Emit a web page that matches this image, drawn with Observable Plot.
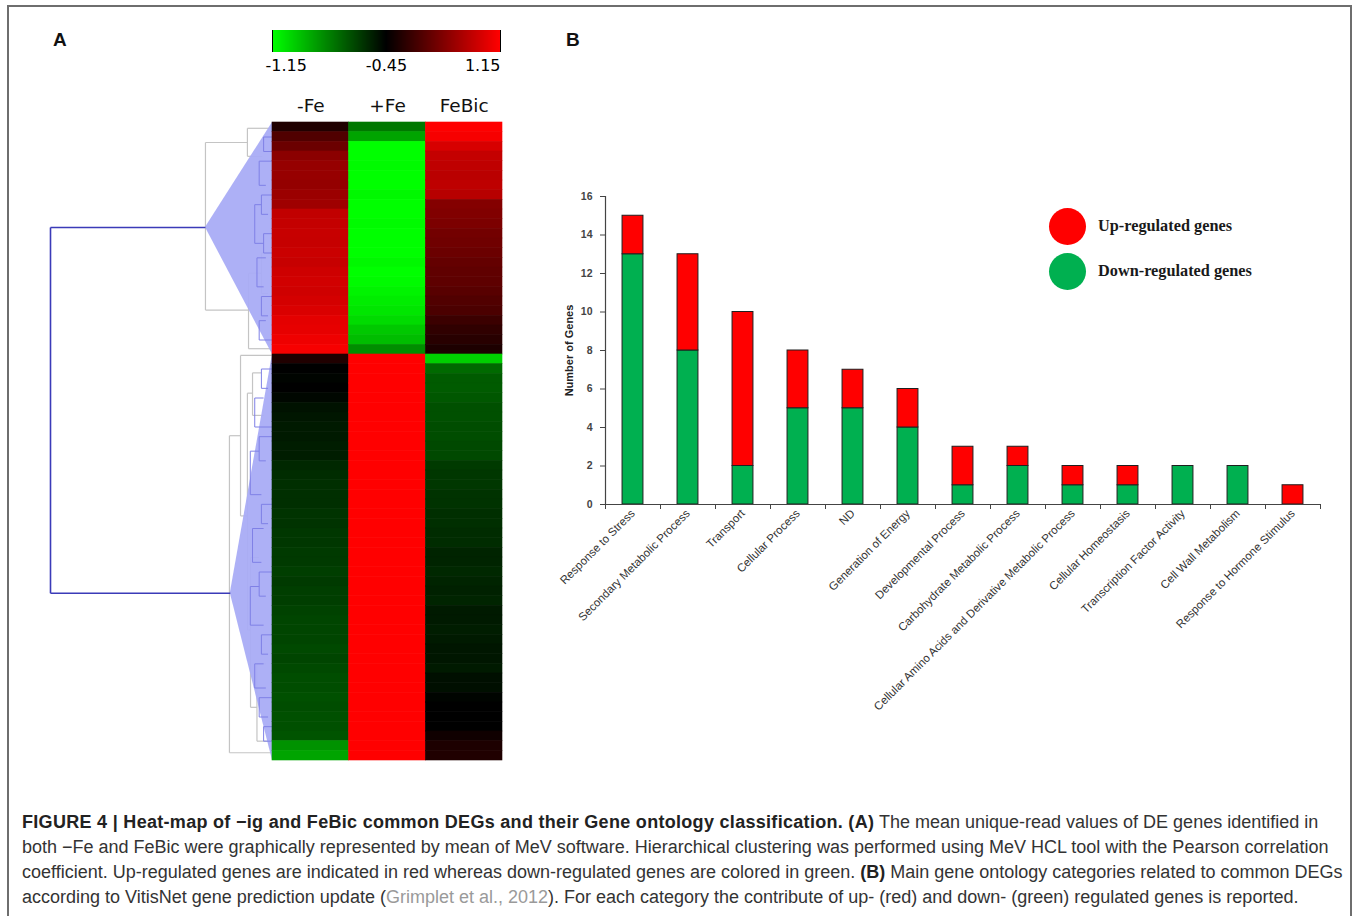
<!DOCTYPE html>
<html><head><meta charset="utf-8">
<script src="https://cdn.jsdelivr.net/npm/d3@7"></script>
<script src="https://cdn.jsdelivr.net/npm/@observablehq/plot@0.6"></script>
<style>
body{margin:0;background:#fff;}
#fig{position:relative;width:1360px;height:916px;overflow:hidden;font-family:"Liberation Sans",Arial,sans-serif;background:#fff;}
#frame{position:absolute;left:7px;top:5px;width:1345px;height:930px;border:2px solid #6e6e6e;border-bottom:none;box-sizing:border-box;}
.abs{position:absolute;}
.panel{font-weight:bold;font-size:19px;color:#111;}
.dot{position:absolute;width:37px;height:37px;border-radius:50%;}
.lg{position:absolute;font-family:"Liberation Serif","Times New Roman",serif;font-weight:bold;font-size:16.3px;color:#1a1a1a;white-space:nowrap;line-height:20px;}
#caption{position:absolute;left:22px;top:810px;font-size:18px;line-height:25px;color:#333;}
#caption .ln{white-space:nowrap;}
#caption b{color:#222;}
#caption .ln1 b{letter-spacing:0.3px;}
#caption .ref{color:#9a9a9a;}
#scaleLegend text{font-family:"DejaVu Sans",sans-serif !important;font-size:16px !important;fill:#000;}
svg{overflow:visible;}
</style>
</head><body>
<div id="fig">
  <div id="frame"></div>
  <div class="abs panel" style="left:53px;top:29px;">A</div>
  <div class="abs panel" style="left:566px;top:29px;">B</div>
  <div class="abs" id="scaleLegend" style="left:272px;top:30px;"></div>
  <div class="abs" id="dendro" style="left:30px;top:82px;"></div>
  <div class="abs" id="heat" style="left:262px;top:82px;"></div>
  <div class="abs" id="bars" style="left:555px;top:186px;"></div>
  <div class="dot" style="left:1049px;top:208px;background:#ff0000;"></div>
  <div class="dot" style="left:1049px;top:253px;background:#00b050;"></div>
  <div class="lg" style="left:1098px;top:216px;">Up-regulated genes</div>
  <div class="lg" style="left:1098px;top:261px;">Down-regulated genes</div>
  <div id="caption">
    <div class="ln ln1"><b>FIGURE 4 | Heat-map of −ig and FeBic common DEGs and their Gene ontology classification. (A)</b> The mean unique-read values of DE genes identified in</div>
    <div class="ln">both −Fe and FeBic were graphically represented by mean of MeV software. Hierarchical clustering was performed using MeV HCL tool with the Pearson correlation</div>
    <div class="ln">coefficient. Up-regulated genes are indicated in red whereas down-regulated genes are colored in green. <b>(B)</b> Main gene ontology categories related to common DEGs</div>
    <div class="ln">according to VitisNet gene prediction update (<span class="ref">Grimplet et al., 2012</span>). For each category the contribute of up- (red) and down- (green) regulated genes is reported.</div>
  </div>
</div>
<script>
// ---------------- Panel A data ----------------
const conditions = ["-Fe", "+Fe", "FeBic"];
const colorStops = [-1.15, -0.45, 1.15];
const colorRange = ["#00ff00", "#000000", "#ff0000"];

const feMinus = [
  -0.25, 0.05, 0.22, 0.42, 0.49, 0.50, 0.48, 0.52, 0.55, 0.76, 0.78, 0.80, 0.79, 0.82, 0.80, 0.84, 0.86, 0.85, 0.88, 0.92, 0.98, 1.00, 1.05, 1.10,
  -0.25, -0.45, -0.46, -0.45, -0.47, -0.50, -0.51, -0.52, -0.52, -0.53, -0.53,
  -0.56, -0.57, -0.58, -0.58, -0.58, -0.59, -0.59, -0.60, -0.60,
  -0.61, -0.61, -0.62, -0.61, -0.62, -0.62, -0.63, -0.64, -0.64, -0.64, -0.65, -0.64, -0.65,
  -0.66, -0.66, -0.67, -0.66, -0.67, -0.67, -0.68, -0.85, -0.90
];
const fePlus = [
  -0.78, -0.90, -1.15, -1.15, -1.14, -1.15, -1.15, -1.13, -1.15, -1.15, -1.14, -1.15, -1.15, -1.15, -1.13, -1.15, -1.14, -1.12, -1.10, -1.08, -1.05, -1.00, -0.97, -0.84,
  1.15, 1.15, 1.15, 1.15, 1.15, 1.15, 1.15, 1.15, 1.15, 1.15, 1.15, 1.15, 1.15, 1.15,
  1.15, 1.15, 1.15, 1.15, 1.15, 1.15, 1.15, 1.15, 1.15, 1.15, 1.15, 1.15, 1.15, 1.15,
  1.15, 1.15, 1.15, 1.15, 1.15, 1.15, 1.15, 1.15, 1.15, 1.15, 1.15, 1.15, 1.15, 1.15
];
const feBic = [
  1.15, 1.10, 0.90, 0.78, 0.75, 0.72, 0.74, 0.70, 0.38, 0.36, 0.33, 0.27, 0.25, 0.22, 0.18, 0.15, 0.14, 0.10, 0.06, 0.02, -0.08, -0.15, -0.20, -0.27,
  -1.02, -0.74, -0.70, -0.70, -0.69, -0.67, -0.67, -0.66, -0.66, -0.65, -0.65,
  -0.61, -0.60, -0.60, -0.59, -0.59, -0.58, -0.58, -0.57, -0.57,
  -0.55, -0.55, -0.56, -0.55, -0.54, -0.55, -0.52, -0.52, -0.53, -0.52, -0.51, -0.51, -0.52,
  -0.49, -0.49, -0.46, -0.45, -0.45, -0.45, -0.35, -0.27, -0.25
];

// Dendrogram (h = merge height, y = row position in gene units)
const rootNode = [{h: 1, ya: 10.86, ha: 0.302, yb: 48.7, hb: 0.19}];
const clusters = [
  {h: 0.302, y: 10.86, start: 0, end: 24},
  {h: 0.19, y: 48.7, start: 24, end: 66}
];
const grayNodes = [
  {h: 0.302, ya: 2.07, ha: 0.113, yb: 19.4, hb: 0.108},
  {h: 0.113, ya: 0.6, ha: 0, yb: 3.5, hb: 0.045},
  {h: 0.108, ya: 15.6, ha: 0.05, yb: 23.4, hb: 0},
  {h: 0.05, ya: 13.5, ha: 0, yb: 17.7, hb: 0.02},
  {h: 0.194, ya: 32.4, ha: 0.144, yb: 65.2, hb: 0},
  {h: 0.144, ya: 24.1, ha: 0, yb: 40.7, hb: 0.113},
  {h: 0.113, ya: 28, ha: 0.09, yb: 52.5, hb: 0.099},
  {h: 0.09, ya: 25.9, ha: 0.05, yb: 30.3, hb: 0.04},
  {h: 0.099, ya: 45, ha: 0.06, yb: 60.5, hb: 0.07},
  {h: 0.07, ya: 56, ha: 0.03, yb: 64, hb: 0.02}
];
const innerNodes = [
  {h: 0.04, ya: 1.5, ha: 0, yb: 3, hb: 0},
  {h: 0.06, ya: 4, ha: 0, yb: 6.5, hb: 0.03},
  {h: 0.05, ya: 7.5, ha: 0, yb: 9.5, hb: 0.02},
  {h: 0.08, ya: 8.5, ha: 0.05, yb: 12.5, hb: 0.04},
  {h: 0.04, ya: 11.5, ha: 0, yb: 13.5, hb: 0},
  {h: 0.07, ya: 14, ha: 0.03, yb: 17, hb: 0.04},
  {h: 0.05, ya: 18, ha: 0, yb: 20, hb: 0.02},
  {h: 0.06, ya: 20.5, ha: 0.03, yb: 22.5, hb: 0},
  {h: 0.05, ya: 25.5, ha: 0, yb: 27.5, hb: 0.02},
  {h: 0.08, ya: 28.5, ha: 0.04, yb: 31.5, hb: 0},
  {h: 0.06, ya: 32.5, ha: 0, yb: 35, hb: 0.03},
  {h: 0.1, ya: 34, ha: 0.06, yb: 38.5, hb: 0.05},
  {h: 0.05, ya: 39.5, ha: 0, yb: 41.5, hb: 0.02},
  {h: 0.09, ya: 42, ha: 0.04, yb: 45.5, hb: 0.05},
  {h: 0.06, ya: 46.5, ha: 0, yb: 49, hb: 0.03},
  {h: 0.1, ya: 48, ha: 0.06, yb: 52, hb: 0.04},
  {h: 0.05, ya: 53, ha: 0, yb: 55, hb: 0.02},
  {h: 0.08, ya: 56, ha: 0.04, yb: 58.5, hb: 0.03},
  {h: 0.06, ya: 59.5, ha: 0, yb: 61.5, hb: 0.02},
  {h: 0.04, ya: 62.5, ha: 0, yb: 64, hb: 0}
];

// ---------------- Panel B data ----------------
const categories = [
  "Response to Stress", "Secondary Metabolic Process", "Transport", "Cellular Process", "ND",
  "Generation of Energy", "Developmental Process", "Carbohydrate Metabolic Process",
  "Cellular Amino Acids and Derivative Metabolic Process", "Cellular Homeostasis",
  "Transcription Factor Activity", "Cell Wall Metabolism", "Response to Hormone Stimulus"
];
const downRegulated = [13, 8, 2, 5, 5, 4, 1, 2, 1, 1, 2, 2, 0];
const upRegulated   = [2, 5, 8, 3, 2, 2, 2, 1, 1, 1, 0, 0, 1];
const seriesNames = ["Down-regulated genes", "Up-regulated genes"];
const seriesColors = ["#00b050", "#ff0000"];
const yTicks = [0, 2, 4, 6, 8, 10, 12, 14, 16];
const yLabel = "Number of Genes";

// ---------------- Build ----------------
const colorScale = {type: "linear", domain: colorStops, range: colorRange, interpolate: "rgb"};
const nRows = feMinus.length;
const series = [feMinus, fePlus, feBic];
const cells = [];
conditions.forEach((c, j) => series[j].forEach((v, i) => cells.push({cond: c, row: i, value: v})));

// colour scale legend
const leg = Plot.legend({
  color: colorScale, width: 228, height: 52, marginTop: 0, marginBottom: 30,
  marginLeft: 0, marginRight: 0, tickSize: 0, ticks: colorStops,
  tickFormat: d => d.toFixed(2), label: null,
  style: {fontSize: "16px", fontFamily: "DejaVu Sans", color: "#000", overflow: "visible", background: "transparent"}
});
document.getElementById("scaleLegend").append(leg);
const tl = Array.from(leg.querySelectorAll("text")).filter(t => t.textContent.trim() !== "");
tl.forEach(t => t.setAttribute("y", "8"));
if (tl.length >= 3) {
  tl[0].setAttribute("text-anchor", "start"); tl[0].setAttribute("dx", "-7");
  tl[tl.length - 1].setAttribute("text-anchor", "end");
}

// heat map
const heat = Plot.plot({
  width: 250, height: 688, marginLeft: 10, marginRight: 10, marginTop: 40, marginBottom: 10,
  x: {domain: conditions, padding: 0, round: false, axis: null},
  y: {type: "band", domain: d3.range(nRows), padding: 0, round: false, axis: null},
  color: colorScale,
  marks: [
    Plot.cell(cells, {x: "cond", y: "row", fill: "value", stroke: "value", strokeWidth: 0.6}),
    Plot.text(conditions, {x: d => d, text: d => d, frameAnchor: "top", dy: -24, fontSize: 18.5, fontFamily: "DejaVu Sans", fill: "#111"})
  ]
});
document.getElementById("heat").append(heat);

// dendrogram
function segs(nodes) {
  return nodes.flatMap(n => [
    {x1: n.h, y1: n.ya, x2: n.h, y2: n.yb},
    {x1: n.h, y1: n.ya, x2: n.ha, y2: n.ya},
    {x1: n.h, y1: n.yb, x2: n.hb, y2: n.yb}
  ]);
}
const tri = clusters.flatMap((c, i) => [
  {c: i, y: c.start, x1: 0},
  {c: i, y: c.y, x1: c.h},
  {c: i, y: c.end, x1: 0}
]);
const dendro = Plot.plot({
  width: 242, height: 688, marginLeft: 20, marginRight: 0, marginTop: 40, marginBottom: 10,
  x: {domain: [1, 0], axis: null},
  y: {domain: [0, nRows], reverse: true, axis: null},
  marks: [
    Plot.link(segs(grayNodes), {x1: "x1", y1: "y1", x2: "x2", y2: "y2", stroke: "#c4c4c4", strokeWidth: 1.2}),
    Plot.areaX(tri, {y: "y", x1: "x1", x2: 0, z: "c", fill: "#a9acf6", fillOpacity: 0.95}),
    Plot.link(segs(innerNodes), {x1: "x1", y1: "y1", x2: "x2", y2: "y2", stroke: "#7f80e6", strokeWidth: 1}),
    Plot.link(segs(rootNode), {x1: "x1", y1: "y1", x2: "x2", y2: "y2", stroke: "#3b3bb8", strokeWidth: 1.6})
  ]
});
document.getElementById("dendro").append(dendro);

// stacked bars
const barRows = categories.flatMap((c, i) => [
  {cat: c, type: seriesNames[0], n: downRegulated[i]},
  {cat: c, type: seriesNames[1], n: upRegulated[i]}
]).filter(d => d.n > 0);
const step = (780 - 50 - 15) / categories.length;
const bars = Plot.plot({
  width: 780, height: 548, marginLeft: 50, marginRight: 15, marginTop: 10, marginBottom: 230,
  style: {fontFamily: "Liberation Sans", background: "transparent"},
  x: {domain: categories, paddingInner: 0.62, paddingOuter: 0.31, round: false, label: null},
  y: {domain: [0, 16], label: null},
  color: {domain: seriesNames, range: seriesColors},
  marks: [
    Plot.barY(barRows, {x: "cat", y: "n", fill: "type", stroke: "#1f1f1f", strokeWidth: 1}),
    Plot.ruleY([0], {stroke: "#444", strokeWidth: 1.2}),
    Plot.ruleX(categories.slice(0, 1), {x: d => d, dx: -step / 2, y1: 0, y2: 16, stroke: "#444", strokeWidth: 1.2}),
    Plot.axisY({ticks: yTicks, tickSize: 5, tickPadding: 8, fontSize: 10.5, fontWeight: "bold", fill: "#444", stroke: "#444"}),
    Plot.axisX({tickSize: 5, dx: -step / 2, tickFormat: () => "", stroke: "#444"}),
    Plot.axisX({ticks: categories.slice(-1), tickSize: 5, dx: step / 2, tickFormat: () => "", stroke: "#444"}),
    Plot.axisX({tickSize: 0, tickRotate: -45, tickPadding: 7, fontSize: 11.5, fill: "#333"}),
    Plot.text([yLabel], {text: d => d, frameAnchor: "left", textAnchor: "middle", rotate: -90, dx: -36, fontSize: 11, fontWeight: "bold", fill: "#222"})
  ]
});
document.getElementById("bars").append(bars);
</script>
</body></html>
